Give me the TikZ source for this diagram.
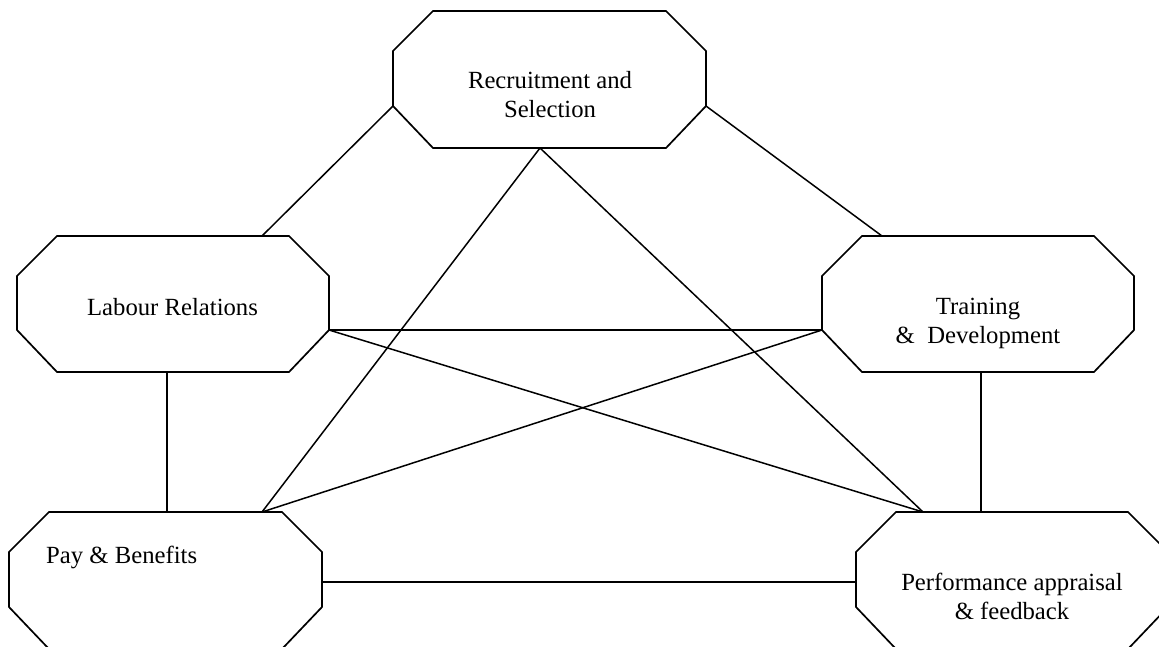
\documentclass[tikz,border=0pt]{standalone}
\usepackage{fontspec}
\setmainfont{Liberation Serif}
\newcommand\hroct[5]{%
  \draw[box] (#2+40,#3) coordinate (#1-tl) -- (#4-40,#3) coordinate (#1-tr)
    -- (#4,#3+40) coordinate (#1-rt) -- (#4,#5-42) coordinate (#1-rb)
    -- (#4-40,#5) coordinate (#1-br) -- (#2+40,#5) coordinate (#1-bl)
    -- (#2,#5-42) coordinate (#1-lb) -- (#2,#3+40) coordinate (#1-lt) -- cycle;}
\begin{document}
\begin{tikzpicture}[x=1pt,y=-1pt,
  box/.style={draw=black, line width=1.7pt, line join=miter},
  link/.style={draw=black, line width=1.5pt},
  lbl/.style={font=\fontsize{24.7}{29}\selectfont, inner sep=0pt, align=center}]
\useasboundingbox (0,0) rectangle (1159,646);
\clip (0,0) rectangle (1159,646);
% octagons
\hroct{rec}{393}{11}{706}{148}
\hroct{lab}{17}{236}{329}{372}
\hroct{trn}{822}{236}{1134}{372}
\hroct{pay}{9}{512}{322}{649}
\hroct{prf}{856}{512}{1168}{649}
% labels
\node[lbl] (recT) at (550,95) {Recruitment and\\Selection};
\node[lbl] (labT) at (172.5,307) {Labour Relations};
\node[lbl] (trnT) at (978,323.5) {Training\\\&\ \ Development};
\node[lbl, anchor=base west] (payT) at (46,563) {Pay \& Benefits};
\node[lbl] (prfT) at (1012,596.5) {Performance appraisal\\\& feedback};
% attachment points
\coordinate (recB) at (540,148);
\coordinate (labTop) at (262,236);
\coordinate (trnTop) at (882,236);
\coordinate (labBot) at (167,372);
\coordinate (trnBot) at (981,372);
\coordinate (payTop) at (262,512);
\coordinate (payTopL) at (167,512);
\coordinate (prfTop) at (923,512);
\coordinate (prfTopR) at (981,512);
\coordinate (payR) at (322,582);
\coordinate (prfL) at (856,582);
% connectors
\draw[link] (rec-lb) -- (labTop);
\draw[link] (rec-rb) -- (trnTop);
\draw[link] (recB) -- (payTop);
\draw[link] (recB) -- (prfTop);
\draw[link] (lab-rb) -- (trn-lb);
\draw[link] (lab-rb) -- (prfTop);
\draw[link] (trn-lb) -- (payTop);
\draw[link] (labBot) -- (payTopL);
\draw[link] (trnBot) -- (prfTopR);
\draw[link] (payR) -- (prfL);
\end{tikzpicture}
\end{document}
